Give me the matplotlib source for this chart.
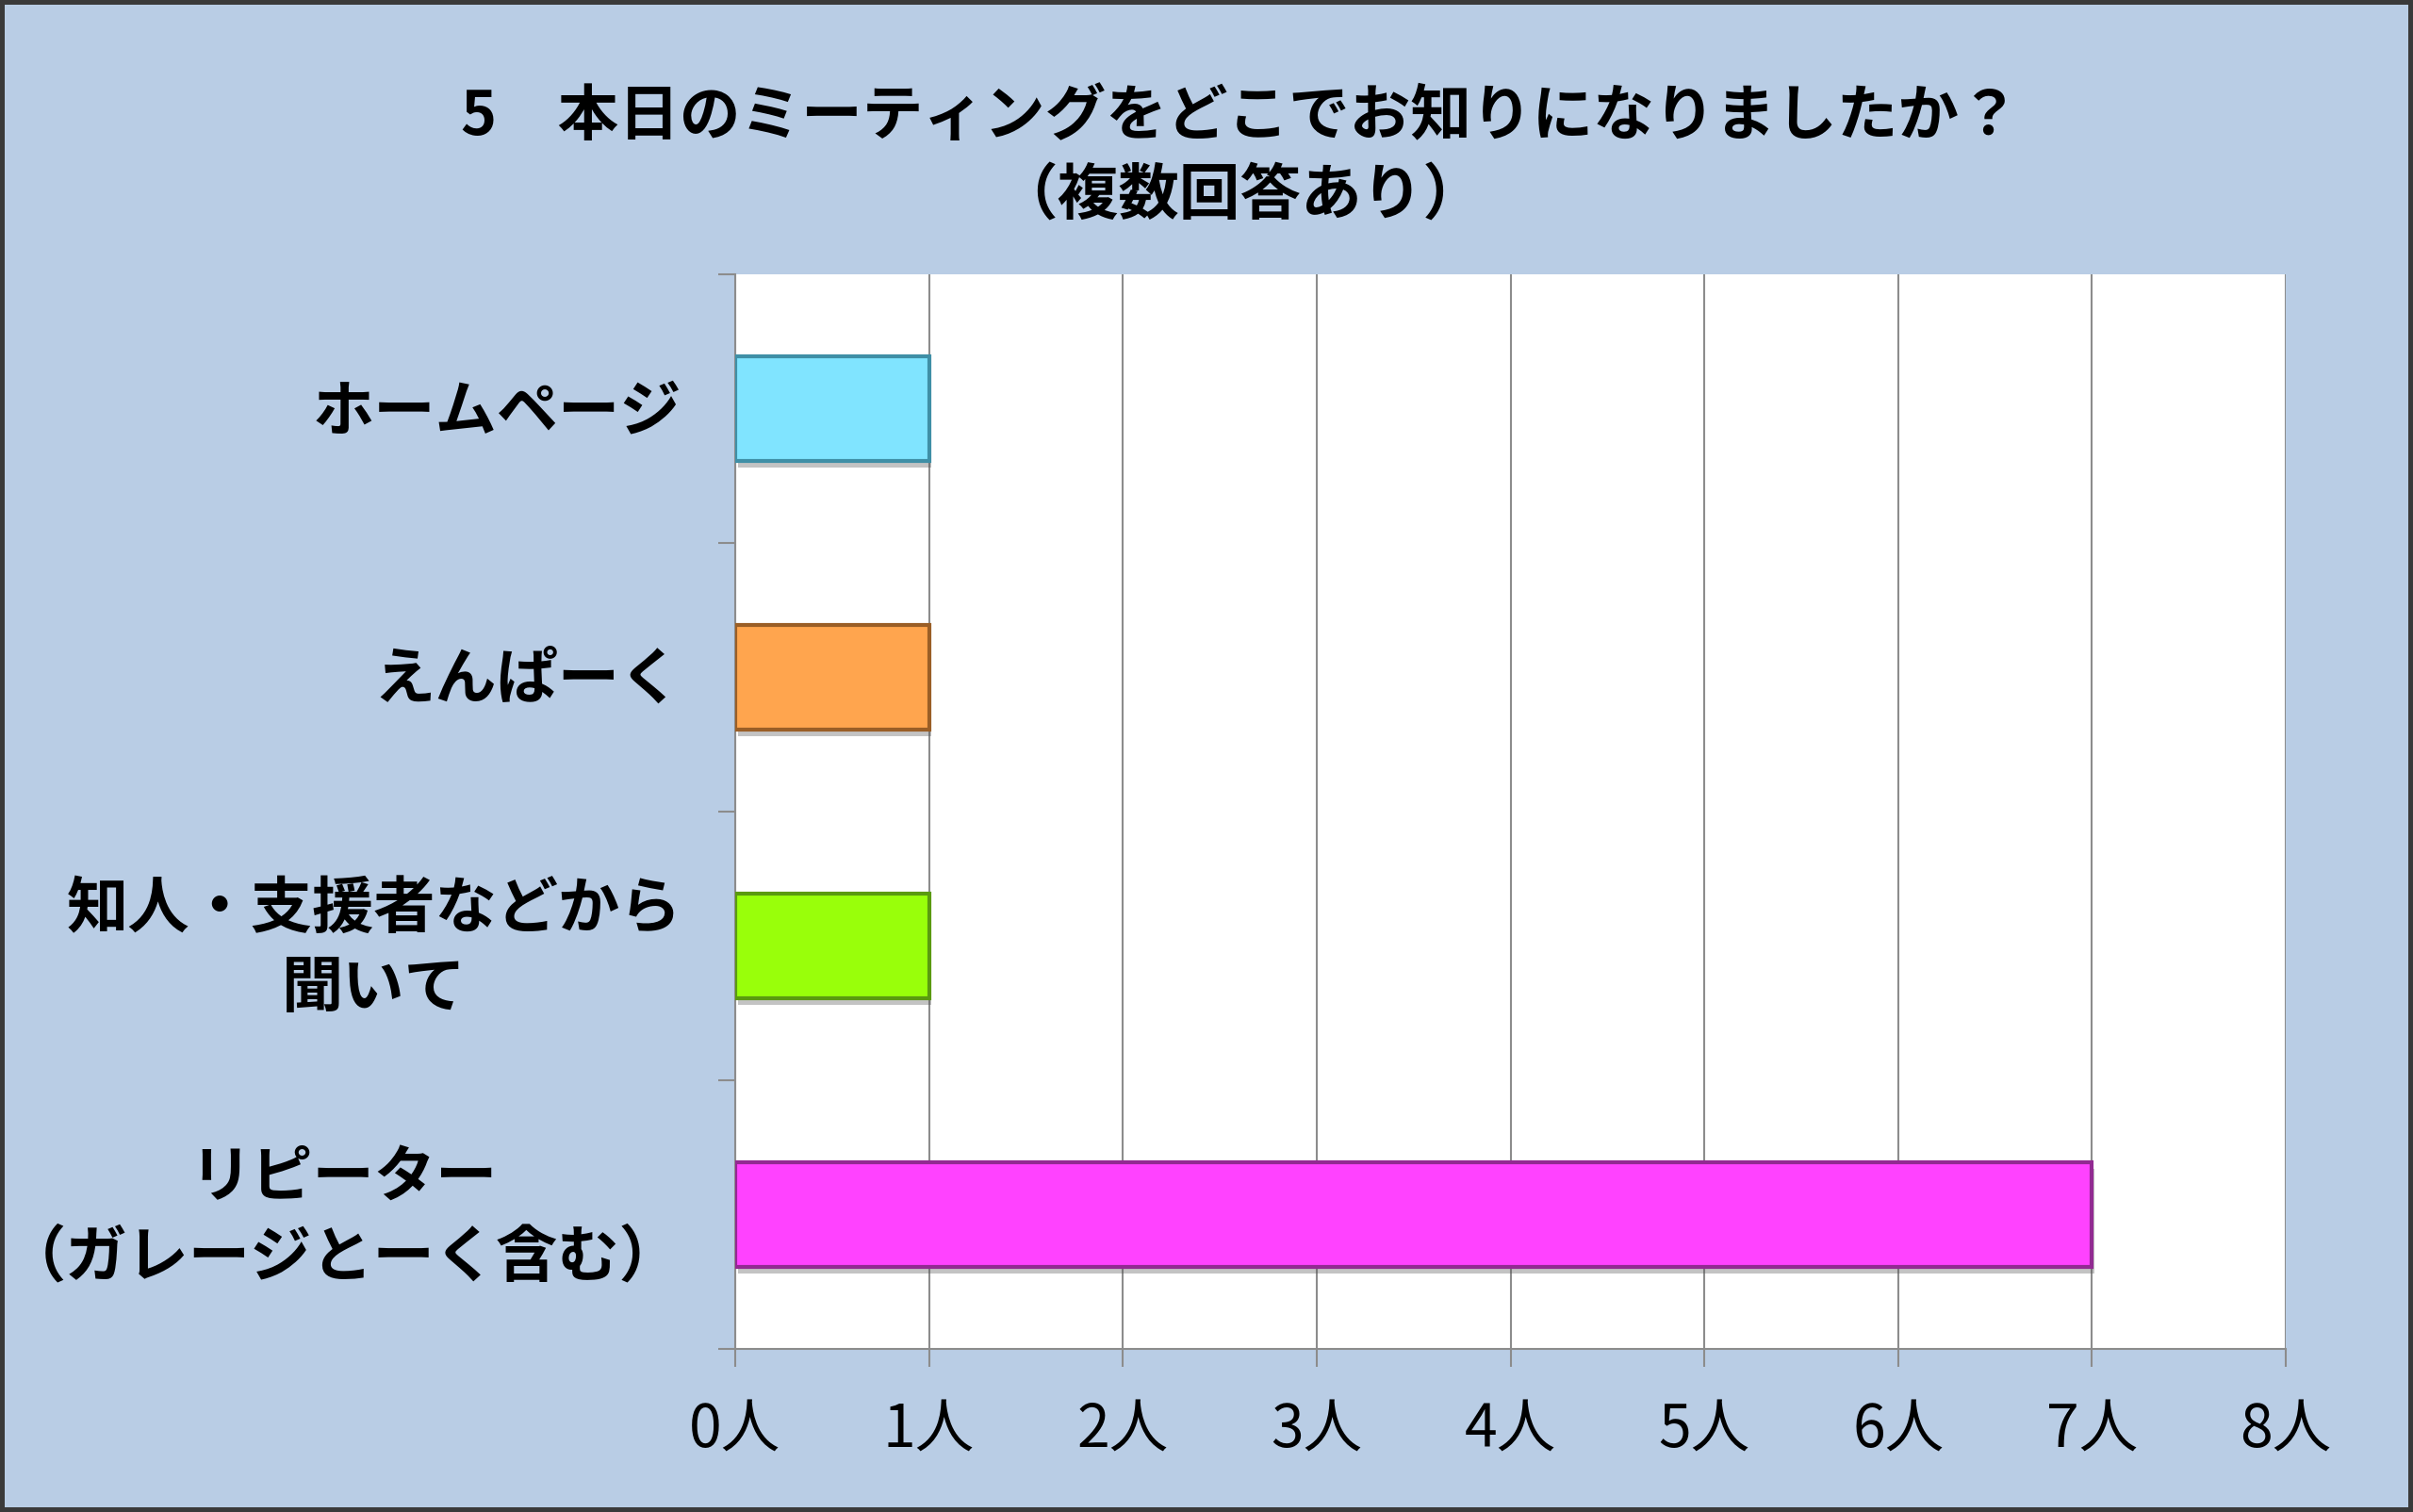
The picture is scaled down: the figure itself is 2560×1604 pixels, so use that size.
import matplotlib
matplotlib.use("Agg")
import matplotlib.pyplot as plt
import matplotlib.patheffects as pe
import matplotlib.transforms as mtransforms
from matplotlib.ticker import FixedLocator

plt.rcParams['font.family'] = ['Noto Sans CJK JP', 'DejaVu Sans']

# ---- data ----
title = "5　本日のミーティングをどこでお知りになりましたか？\n（複数回答あり）"
categories = ["ホームページ", "えんぱーく", "知人・支援者などから\n聞いて", "リピーター\n（ガレージとーく含む）"]
values = [1, 1, 1, 7]
bar_colors = ["#80E4FF", "#FFA54E", "#99FF0A", "#FF42FF"]
edge_colors = ["#3F8FA6", "#9A5E26", "#5A9A10", "#922A92"]
x_ticks = [0, 1, 2, 3, 4, 5, 6, 7, 8]
x_tick_labels = [f"{v}人" for v in x_ticks]

BG = "#B9CDE5"
GRID = "#8C8C8C"

fig = plt.figure(figsize=(25.6, 16.04), dpi=100)
fig.patch.set_facecolor(BG)
fig.patch.set_edgecolor("#3A3A3A")
fig.patch.set_linewidth(6)

ax = fig.add_axes([780/2560, 1-1431/1604, (2425-780)/2560, (1431-291)/1604])
ax.set_facecolor("white")

ypos = list(range(len(categories)))
bars = ax.barh(ypos, values, height=0.39, color=bar_colors, edgecolor=edge_colors,
               linewidth=3, zorder=3)
for b in bars:
    b.set_path_effects([pe.SimplePatchShadow(offset=(2, -5), alpha=0.35, shadow_rgbFace="#555555"),
                        pe.Normal()])

ax.set_xlim(0, 8)
ax.set_ylim(len(categories) - 0.5, -0.5)

ax.set_xticks(x_ticks)
ax.set_xticklabels(x_tick_labels, fontsize=45)
ax.tick_params(axis='x', direction='out', length=14, width=1.5, color=GRID, pad=25)

# category labels drawn as text next to the axis
ax.set_yticks(ypos)
ax.set_yticklabels([])
ax.tick_params(axis='y', which='major', length=0)
for y, lab in zip(ypos, categories):
    up = -3
    tr = mtransforms.offset_copy(ax.get_yaxis_transform(), fig=fig, x=-57, y=up, units='dots')
    ax.text(0, y, lab, transform=tr, ha='right', va='center', multialignment='center',
            fontsize=47, fontweight='bold', linespacing=1.33)

ax.yaxis.set_minor_locator(FixedLocator([i - 0.5 for i in range(len(categories) + 1)]))
ax.tick_params(axis='y', which='minor', direction='out', length=13, width=1.5, color=GRID)

ax.grid(axis='x', color=GRID, linewidth=1.5, zorder=0)
ax.set_axisbelow(True)
for s in ['top', 'right']:
    ax.spines[s].set_visible(False)
for s in ['left', 'bottom']:
    ax.spines[s].set_color(GRID)
    ax.spines[s].set_linewidth(1.5)

fig.text(0.514, 1-166/1604, title, ha='center', va='center', fontsize=46.5,
         fontweight='bold', linespacing=1.36)

fig.savefig("out.png", dpi=100, facecolor=fig.get_facecolor(), edgecolor=fig.get_edgecolor())
